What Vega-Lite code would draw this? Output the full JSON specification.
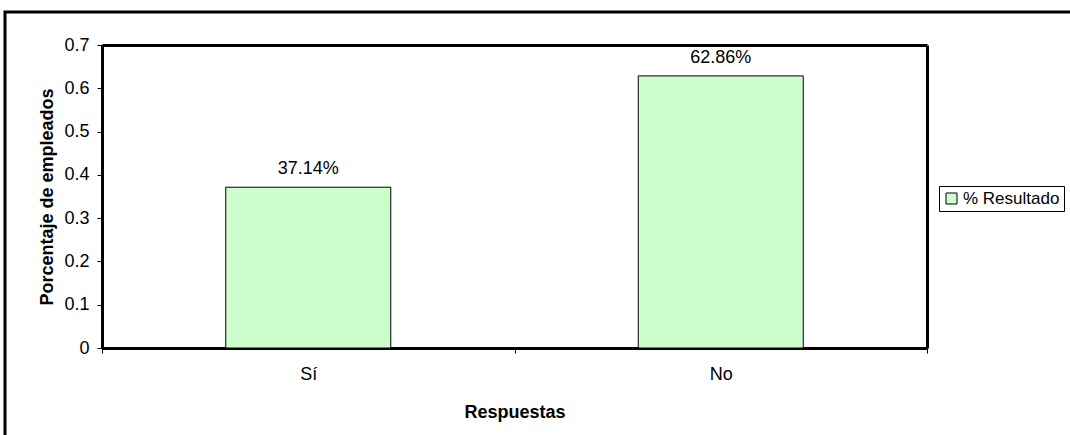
{
  "$schema": "https://vega.github.io/schema/vega-lite/v6.json",
  "width": 1070,
  "height": 440,
  "autosize": {"type": "none"},
  "padding": {"left": 5, "top": 12, "right": 0, "bottom": 0},
  "background": "white",
  "config": {
    "view": {"stroke": "black", "strokeWidth": 3},
    "font": "Liberation Sans",
    "axis": {"labelColor": "black", "titleColor": "black", "labelFont": "Liberation Sans", "titleFont": "Liberation Sans"}
  },
  "data": {
    "values": [
      {"respuesta": "Sí", "valor": 0.3714, "etiqueta": "37.14%", "serie": "% Resultado"},
      {"respuesta": "No", "valor": 0.6286, "etiqueta": "62.86%", "serie": "% Resultado"}
    ]
  },
  "layer": [
    {
      "mark": {"type": "bar", "width": {"band": 0.4}, "stroke": "black", "strokeWidth": 1},
      "encoding": {
        "x": {
          "field": "respuesta", "type": "nominal", "sort": null,
          "scale": {"type": "band", "range": [97, 922], "paddingInner": 0, "paddingOuter": 0},
          "axis": {
            "orient": "bottom", "offset": -104, "title": "Respuestas",
            "titleFontWeight": "bold", "titleFontSize": 18, "labelFontSize": 18,
            "labelAngle": 0, "tickBand": "extent", "tickSize": 5, "tickColor": "black",
            "domainColor": "black", "domainWidth": 3, "labelPadding": 12, "titlePadding": 20, "grid": false
          }
        },
        "y": {
          "field": "valor", "type": "quantitative",
          "scale": {"domain": [0, 0.7], "range": [336, 33], "nice": false, "zero": true},
          "axis": {
            "orient": "left", "offset": -97, "title": "Porcentaje de empleados",
            "titleFontWeight": "bold", "titleFontSize": 18, "labelFontSize": 18,
            "values": [0, 0.1, 0.2, 0.3, 0.4, 0.5, 0.6, 0.7], "format": ".1~f",
            "tickSize": 5, "tickColor": "black", "domainColor": "black", "domainWidth": 3,
            "labelPadding": 8, "titlePadding": 7, "grid": false
          }
        },
        "fill": {
          "field": "serie", "type": "nominal",
          "scale": {"range": ["#CCFFCC"]},
          "legend": {
            "orient": "none", "legendX": 934, "legendY": 174, "title": null,
            "strokeColor": "black", "fillColor": "white", "padding": 4,
            "symbolType": "square", "symbolSize": 121, "symbolStrokeColor": "black",
            "symbolStrokeWidth": 1, "labelFontSize": 17, "labelColor": "black",
            "labelFont": "Liberation Sans", "labelOffset": 3
          }
        }
      }
    },
    {
      "mark": {"type": "text", "baseline": "alphabetic", "dy": -13, "fontSize": 18, "color": "black"},
      "encoding": {
        "x": {
          "field": "respuesta", "type": "nominal", "sort": null,
          "scale": {"type": "band", "range": [97, 922], "paddingInner": 0, "paddingOuter": 0},
          "axis": {"orient": "top", "offset": -33, "labels": false, "ticks": false, "title": null, "domainWidth": 3, "domainColor": "black", "grid": false}
        },
        "y": {
          "field": "valor", "type": "quantitative",
          "scale": {"domain": [0, 0.7], "range": [336, 33], "nice": false, "zero": true},
          "axis": {"orient": "right", "offset": -148, "labels": false, "ticks": false, "title": null, "domainWidth": 3, "domainColor": "black", "grid": false}
        },
        "text": {"field": "etiqueta"}
      }
    }
  ],
  "resolve": {"axis": {"x": "independent", "y": "independent"}}
}
